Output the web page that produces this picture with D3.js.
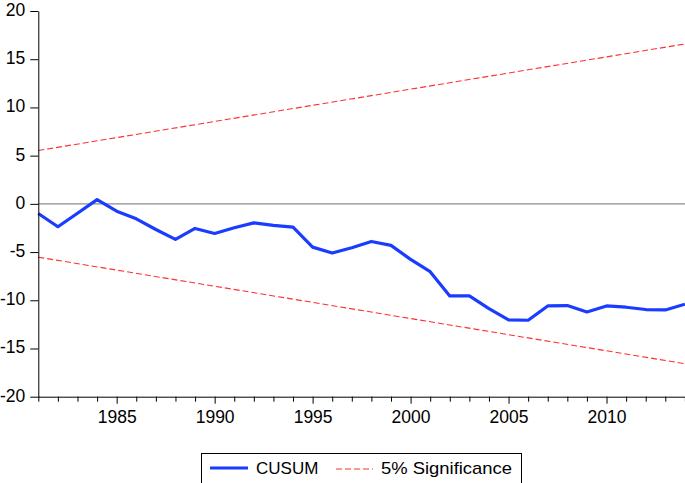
<!DOCTYPE html>
<html>
<head>
<meta charset="utf-8">
<script src="https://cdn.jsdelivr.net/npm/d3@7"></script>
<style>
  html, body { margin: 0; padding: 0; background: #fff; }
  svg { display: block; }
  text { font-family: "Liberation Sans", Arial, sans-serif; fill: #000; }
</style>
</head>
<body>
<div id="chart"></div>
<script>
// ---- data ----
const years = d3.range(1981, 2015);
const cusum = [-1.0, -2.38, -0.97, 0.44, -0.76, -1.55, -2.66, -3.69, -2.55, -3.07,
               -2.48, -1.97, -2.24, -2.42, -4.49, -5.10, -4.55, -3.90, -4.31, -5.76,
               -7.03, -9.55, -9.55, -10.86, -12.03, -12.07, -10.59, -10.55, -11.21, -10.59,
               -10.72, -10.96, -11.00, -10.41];
const boundYears = [1981, 2014];
const upperBound = [5.53, 16.58];
const lowerBound = [-5.53, -16.58];
const yTicks = [-20, -15, -10, -5, 0, 5, 10, 15, 20];
const xMajorTicks = [1985, 1990, 1995, 2000, 2005, 2010];
const legendLabels = ["CUSUM", "5% Significance"];

// ---- layout ----
const W = 685, H = 483;
const x0 = 38.3, x1 = 684.9, yTop = 11, yBot = 396.7;

const svg = d3.select("#chart").append("svg").attr("width", W).attr("height", H);

const x = d3.scaleLinear().domain([1981, 2014]).range([x0, x1]);
const y = d3.scaleLinear().domain([-20, 20]).range([yBot, yTop]);

// zero line
svg.append("line")
  .attr("x1", x0).attr("x2", W)
  .attr("y1", y(0)).attr("y2", y(0))
  .attr("stroke", "#8c8c8c").attr("stroke-width", 1.2);

// bounds
const bLine = d3.line().x((d, i) => x(boundYears[i])).y(d => y(d));
[upperBound, lowerBound].forEach(b => {
  svg.append("path").datum(b)
    .attr("d", bLine)
    .attr("fill", "none")
    .attr("stroke", "#ff3030")
    .attr("stroke-width", 1.1)
    .attr("stroke-dasharray", "6,3");
});

// cusum
svg.append("path").datum(cusum)
  .attr("d", d3.line().x((d, i) => x(years[i])).y(d => y(d)))
  .attr("fill", "none")
  .attr("stroke", "#1a3cff")
  .attr("stroke-width", 3.2)
  .attr("stroke-linejoin", "round");

// y axis
const yAxis = svg.append("g").attr("transform", `translate(${x0},0)`)
  .call(d3.axisLeft(y).tickValues(yTicks).tickSize(8).tickPadding(5).tickSizeOuter(0)
    .tickFormat(d => String(d)));
yAxis.select(".domain").attr("stroke", "#000");
yAxis.selectAll(".tick line").attr("stroke", "#000");
yAxis.selectAll(".tick text")
  .attr("font-size", 17.5).attr("dy", "0.25em")
  .attr("font-family", "Liberation Sans, Arial, sans-serif");

// x axis: minor ticks every year, majors labelled
const xAxisMinor = svg.append("g").attr("transform", `translate(0,${yBot})`)
  .call(d3.axisBottom(x).tickValues(years.filter(v => !xMajorTicks.includes(v))).tickSize(5).tickFormat("").tickSizeOuter(0));
xAxisMinor.select(".domain").remove();
xAxisMinor.selectAll(".tick line").attr("stroke", "#000");

const xAxis = svg.append("g").attr("transform", `translate(0,${yBot})`)
  .call(d3.axisBottom(x).tickValues(xMajorTicks).tickSize(7).tickPadding(7).tickFormat(d => String(d)).tickSizeOuter(0));
xAxis.select(".domain").attr("stroke", "#000").attr("d", `M${x0},0.5H${W}`);
xAxis.selectAll(".tick line").attr("stroke", "#000");
xAxis.selectAll(".tick text")
  .attr("font-size", 17.5)
  .attr("font-family", "Liberation Sans, Arial, sans-serif");

// legend
const lg = svg.append("g");
lg.append("rect")
  .attr("x", 201.5).attr("y", 453.5).attr("width", 320).attr("height", 40)
  .attr("fill", "#fff").attr("stroke", "#000").attr("stroke-width", 1);
lg.append("line")
  .attr("x1", 210).attr("x2", 248).attr("y1", 468).attr("y2", 468)
  .attr("stroke", "#1a3cff").attr("stroke-width", 3.2);
lg.append("text").attr("x", 256).attr("y", 474).attr("font-size", 17).text(legendLabels[0]);
lg.append("line")
  .attr("x1", 336).attr("x2", 373).attr("y1", 469).attr("y2", 469)
  .attr("stroke", "#ff3030").attr("stroke-width", 1.1).attr("stroke-dasharray", "6,3");
lg.append("text").attr("x", 381).attr("y", 474).attr("font-size", 17)
  .attr("textLength", 131).attr("lengthAdjust", "spacingAndGlyphs")
  .text(legendLabels[1]);
</script>
</body>
</html>
